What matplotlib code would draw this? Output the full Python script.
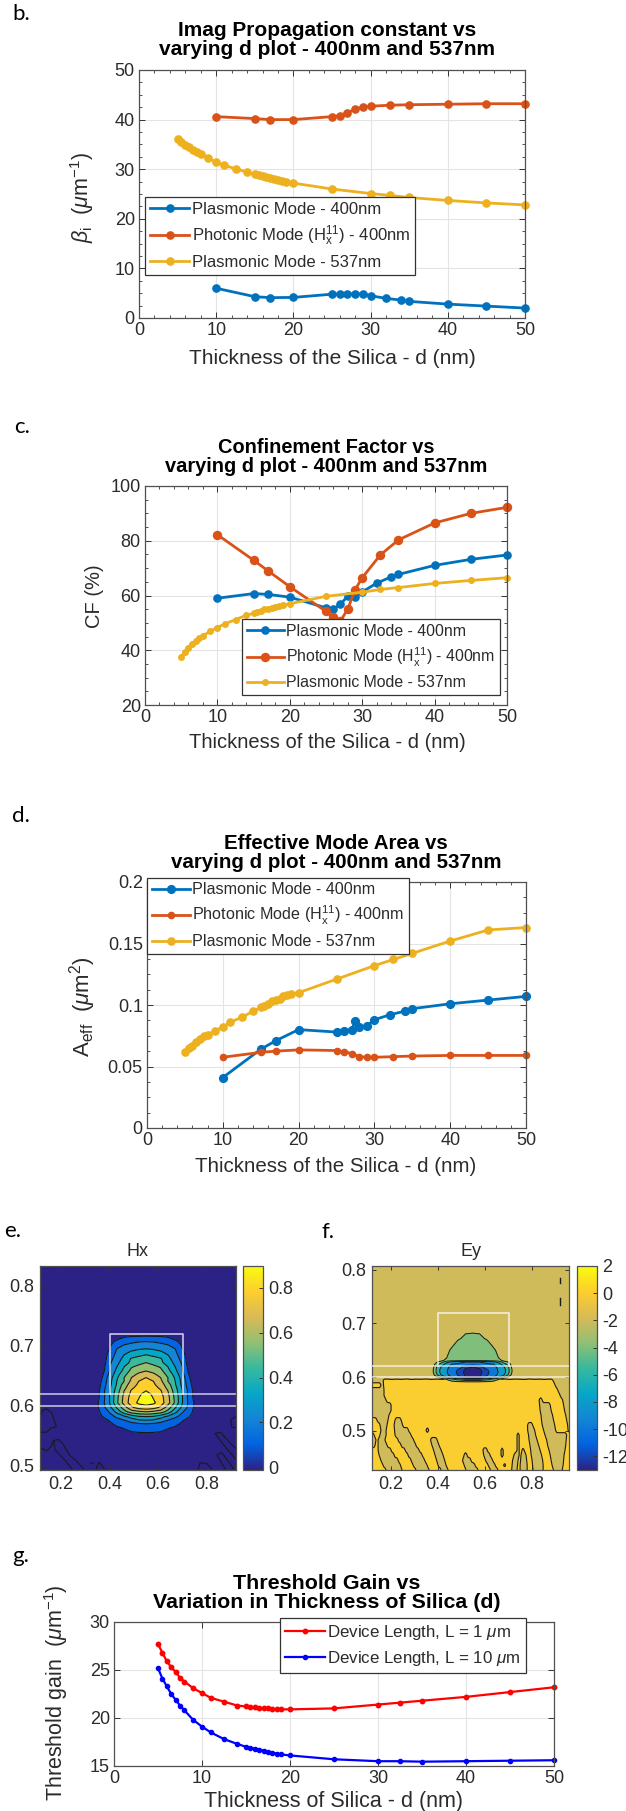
import matplotlib
matplotlib.use('Agg')
import matplotlib.pyplot as plt
import numpy as np
from matplotlib.colors import LinearSegmentedColormap, Normalize
from matplotlib.cm import ScalarMappable
from matplotlib.ticker import MultipleLocator

plt.rcParams['font.family'] = ['Liberation Sans', 'DejaVu Sans']
plt.rcParams['mathtext.fontset'] = 'custom'
plt.rcParams['mathtext.rm'] = 'Liberation Sans'
plt.rcParams['mathtext.it'] = 'Liberation Sans:italic'
plt.rcParams['mathtext.bf'] = 'Liberation Sans:bold'

# thickness sweeps
d_plasmonic = [10, 15, 17, 20, 25, 26, 27, 28, 29, 30, 32, 34, 35, 40, 45, 50]
d_plasmonic_area = [10, 15, 17, 20, 25, 26, 27, 27.5, 28, 29, 30, 32, 34, 35, 40, 45, 50]
d_photonic = [10, 15, 17, 20, 25, 26, 27, 28, 29, 30, 32.5, 35, 40, 45, 50]
d_fine = [5, 5.5, 6, 6.5, 7, 7.5, 8, 9, 10, 11, 12.5, 14, 15, 15.5, 16, 16.5, 17, 17.5,
          18, 18.5, 19, 20, 25, 30, 32.5, 35, 40, 45, 50]

# panel b
beta_plasmonic = [6.0, 4.3, 4.1, 4.15, 4.8, 4.85, 4.85, 4.85, 4.85, 4.5, 3.95, 3.6, 3.35, 2.8, 2.4, 2.0]
beta_photonic = [40.6, 40.2, 40.0, 40.0, 40.6, 40.8, 41.4, 42.1, 42.5, 42.7, 42.9, 43.0, 43.1, 43.2, 43.2]
beta_537 = [36, 35.4, 34.9, 34.4, 33.9, 33.4, 33, 32.2, 31.4, 30.8, 30.1, 29.4, 29, 28.8, 28.6, 28.4,
            28.2, 28, 27.8, 27.6, 27.5, 27.2, 26, 25.1, 24.7, 24.3, 23.7, 23.2, 22.8]

# panel c
cf_plasmonic = [59, 60.7, 60.4, 59.4, 55.5, 55.1, 56.8, 59.8, 59.5, 61.3, 64.5, 66.8, 67.7, 71, 73.2, 74.8]
cf_photonic = [82.2, 72.9, 69, 63.2, 54.2, 52, 50.7, 55, 62, 66.5, 74.8, 80.3, 86.5, 90, 92.2]
cf_537 = [37.6, 39.3, 40.8, 42.2, 43.4, 44.4, 45.3, 46.9, 48.3, 49.6, 51.2, 52.8, 53.5, 54, 54.5, 54.9,
          55.2, 55.6, 55.9, 56.2, 56.5, 57, 59.7, 61.2, 62.2, 62.9, 64.4, 65.5, 66.5]

# panel d
area_plasmonic = [.041, .064, .071, .08, .078, .079, .08, .087, .082, .083, .088, .092, .095, .097, .101, .104, .107]
area_photonic = [.0575, .0615, .0625, .0635, .063, .062, .0605, .058, .0575, .0575, .058, .0585, .059, .059, .059]
area_537 = [.062, .065, .067, .07, .072, .075, .076, .079, .082, .086, .09, .095, .098, .099, .101, .103,
            .104, .105, .107, .108, .109, .11, .121, .132, .137, .142, .152, .161, .163]

# panel g
gain_1um = [27.7, 26.8, 25.9, 25.3, 24.8, 24.2, 23.8, 23.1, 22.6, 22.1, 21.7, 21.3, 21.2, 21.1, 21.1, 21,
            21, 21, 20.9, 20.9, 20.9, 20.9, 21, 21.4, 21.6, 21.8, 22.2, 22.7, 23.2]
gain_10um = [25.2, 24.1, 23.3, 22.5, 21.9, 21.3, 20.8, 19.8, 19.1, 18.5, 17.8, 17.3, 17, 16.9, 16.8, 16.7,
             16.6, 16.5, 16.4, 16.3, 16.2, 16.1, 15.7, 15.5, 15.5, 15.45, 15.5, 15.55, 15.6]

mode_labels = ['Plasmonic Mode - 400nm', r'Photonic Mode (H$_{\mathrm{x}}^{11}$) - 400nm', 'Plasmonic Mode - 537nm']
x_ticks = [0, 10, 20, 30, 40, 50]

# panel e, Hx field, half of the mode (offset from the centre), estimated from the contours
hx_center = 0.55
hx_dx = [0, .03, .06, .09, .12, .15, .18, .21, .24, .45]
hx_y = [.49, .54, .556, .563, .57, .576, .582, .59, .597, .605, .615, .62, .625, .63, .635, .641, .647, .6525,
        .658, .665, .672, .6785, .685, .69, .695, .701, .707, .711, .7155, .725, .74, .84]
hx_half = [
    [0, 0, 0, 0, 0, 0, 0, 0, 0, 0],
    [.01, .01, .01, 0, 0, 0, 0, 0, 0, 0],
    [.104, .102, .095, .08, .05, .03, .01, 0, 0, 0],
    [.15, .148, .135, .105, .085, .05, .02, 0, 0, 0],
    [.2, .19, .17, .15, .125, .08, .03, 0, 0, 0],
    [.3, .29, .25, .2, .16, .11, .05, .01, 0, 0],
    [.4, .39, .34, .28, .22, .16, .1, .03, 0, 0],
    [.6, .58, .55, .46, .33, .21, .13, .04, 0, 0],
    [.76, .74, .68, .55, .41, .27, .155, .05, 0, 0],
    [.84, .82, .75, .64, .48, .3, .16, .05, 0, 0],
    [.87, .79, .74, .63, .47, .3, .15, .03, 0, 0],
    [.84, .775, .725, .615, .46, .3, .15, .025, 0, 0],
    [.8, .76, .71, .6, .445, .3, .155, .02, 0, 0],
    [.78, .74, .68, .57, .43, .285, .14, .01, 0, 0],
    [.76, .72, .65, .55, .41, .27, .13, 0, 0, 0],
    [.73, .7, .625, .5, .4, .26, .115, 0, 0, 0],
    [.7, .66, .6, .5, .385, .25, .1, 0, 0, 0],
    [.65, .62, .56, .47, .36, .225, .08, 0, 0, 0],
    [.6, .57, .53, .43, .33, .2, .06, 0, 0, 0],
    [.55, .525, .49, .4, .3, .2, .045, 0, 0, 0],
    [.5, .47, .42, .36, .27, .18, .03, 0, 0, 0],
    [.45, .43, .41, .33, .25, .16, .025, 0, 0, 0],
    [.4, .38, .34, .3, .23, .14, .02, 0, 0, 0],
    [.35, .335, .31, .27, .215, .12, .018, 0, 0, 0],
    [.3, .29, .27, .24, .2, .1, .015, 0, 0, 0],
    [.25, .245, .225, .205, .16, .085, .012, 0, 0, 0],
    [.2, .195, .18, .16, .12, .07, .01, 0, 0, 0],
    [.15, .148, .14, .125, .09, .05, .01, 0, 0, 0],
    [.104, .102, .1, .09, .06, .03, .01, 0, 0, 0],
    [.03, .03, .03, .025, .015, .005, 0, 0, 0, 0],
    [0, 0, 0, 0, 0, 0, 0, 0, 0, 0],
    [0, 0, 0, 0, 0, 0, 0, 0, 0, 0],
]
hx_levels = [-.01, .1, .2, .3, .4, .5, .6, .7, .8, 1.0]

# faint noise contours in the lower corners of the Hx map
hx_noise = [
    ([.119, .142, .159, .181, .163, .140, .125, .118], [.556, .556, .563, .565, .588, .595, .592, .585]),
    ([.119, .142, .159, .170, .190, .211, .235, .266, .293], [.529, .525, .532, .542, .544, .535, .518, .507, .495]),
    ([.170, .177, .211, .245], [.542, .526, .512, .495]),
    ([.320, .334], [.505, .504]),
    ([.345, .357, .378], [.495, .506, .495]),
    ([.765, .772, .799, .820], [.495, .505, .504, .495]),
    ([.919, .895, .857, .834, .875, .919], [.529, .538, .556, .554, .532, .511]),
    ([.909, .895, .861, .841, .875], [.495, .504, .522, .518, .495]),
    ([.919, .899, .902, .919], [.582, .577, .565, .563]),
]

# panel f, Ey field: x ranges that sit in the -2..0 band, row by row below the metal edge
ey_y = [.594, .585, .576, .566, .557, .548, .538, .529, .520, .511, .501, .492, .483, .473, .464, .455,
        .445, .436, .427]
ey_bands = [
    [(.11, .166), (.889, .97)],
    [(.157, .168), (.898, .97)],
    [(.11, .170), (.909, .97)],
    [(.11, .170), (.919, .97)],
    [(.11, .179), (.830, .843), (.930, .97)],
    [(.11, .200), (.832, .877), (.934, .97)],
    [(.11, .200), (.834, .881), (.938, .97)],
    [(.11, .191), (.838, .887), (.943, .97)],
    [(.140, .187), (.217, .243), (.840, .891), (.947, .97)],
    [(.153, .183), (.213, .249), (.781, .802), (.843, .896), (.951, .97)],
    [(.157, .179), (.215, .274), (.349, .360), (.781, .811), (.849, .900), (.953, .97)],
    [(.11, .128), (.153, .179), (.217, .285), (.736, .745), (.785, .815), (.855, .947)],
    [(.11, .136), (.145, .174), (.230, .296), (.368, .396), (.736, .745), (.787, .821), (.862, .945)],
    [(.11, .132), (.145, .183), (.243, .306), (.374, .404), (.736, .745), (.791, .828), (.866, .943)],
    [(.145, .200), (.260, .319), (.381, .413), (.591, .609), (.668, .677), (.736, .745), (.757, .766),
     (.794, .834), (.872, .940)],
    [(.149, .213), (.272, .332), (.387, .421), (.511, .523), (.594, .621), (.668, .677), (.723, .745),
     (.753, .774), (.796, .840), (.877, .936)],
    [(.157, .230), (.285, .343), (.394, .428), (.504, .540), (.602, .632), (.717, .740), (.751, .777),
     (.800, .845), (.881, .934)],
    [(.166, .240), (.294, .353), (.400, .434), (.511, .557), (.613, .643), (.679, .687), (.715, .738),
     (.749, .779), (.802, .847), (.885, .932)],
    [(.179, .247), (.306, .362), (.413, .443), (.519, .570), (.623, .655), (.713, .736), (.749, .779),
     (.804, .847), (.891, .928)],
]
# first row under the edge, these values give the wiggle of the contour at y=0.596
ey_edge = [.25, .25, .25, .32, .2, .3, .22, .35, .2, .28, .24, .34, .2, .3, .24, .2, .33, .26, .2, .3, .24,
           .3, .22, .34, .2, .28, .25, .32, .2, .3, .26, .2, .34, .22, .3, .2, .3, .25, .25, .25, .25]
ey_levels = [-2, 0, 2]

# the dome and the band in the silica gap, half of the mode
ey_center = 0.547
ey_dx = [0, .03, .05, .07, .09, .11, .13, .15, .165, .18]
ey_core_y = [.59, .596, .6, .604, .609, .614, .619, .624, .628, .631, .636, .65, .669, .682, .69]
ey_core_half = [
    [-1, -1, -1, -1, -1, -1, -1, -1, -1, -1],
    [-6, -6, -5, -4.5, -3.2, -2.1, -1, -1, -1, -1],
    [-12.5, -12, -10, -9, -8, -6, -4, -1.8, -1, -1],
    [-13, -12.5, -10.5, -9.8, -8.8, -7.6, -6.5, -4, -1.8, -1],
    [-13, -12.8, -11, -10, -8.9, -7.9, -7, -5, -2.2, -1],
    [-13, -12.5, -10.5, -9.8, -8.8, -7.8, -6.9, -5, -2.2, -1],
    [-12, -11, -9.5, -9.2, -8.5, -7.6, -6.5, -4.5, -2, -1],
    [-9, -9, -8.6, -8.3, -8, -7, -5.1, -3.5, -1.5, -1],
    [-8, -8, -7.6, -7, -6.5, -5.5, -3.5, -2.1, -1, -1],
    [-3.5, -3.5, -3.5, -3.4, -3.3, -3, -1.5, -1, -1, -1],
    [-3, -3, -3, -3, -2.8, -2, -1, -1, -1, -1],
    [-3, -3, -3, -2.8, -2.3, -1.5, -1, -1, -1, -1],
    [-3, -2.8, -2.3, -1.8, -1, -1, -1, -1, -1, -1],
    [-2, -1.9, -1, -1, -1, -1, -1, -1, -1, -1],
    [-1, -1, -1, -1, -1, -1, -1, -1, -1, -1],
]
ey_core_levels = [-14, -12, -10, -8, -6, -4, -2]
ey_marks = [([.92, .92], [.775, .785]), ([.92, .92], [.735, .748])]

# device outline drawn on both maps
box_x = [.4, .4, .7, .7]
box_y = [.62, .72, .72, .62]
silica_y = [.60, .62]

parula = LinearSegmentedColormap.from_list('parula', ['#2c2285', '#0363e1', '#1485d4', '#06a7c6', '#38b99e',
                                                      '#92bf73', '#d9ba56', '#fcce2e', '#f9fb0e'])
W, H = 626, 1811
BLUE, ORANGE, YELLOW = '#0072bd', '#d95319', '#edb120'
DARK = '#333333'
TICK_SIZE = 13

fig = plt.figure(figsize=(W / 100, H / 100), dpi=100)


def axes_px(left, top, right, bottom):
    return fig.add_axes([left / W, 1 - bottom / H, (right - left) / W, (bottom - top) / H])


def text_px(x, y, s, **kw):
    kw.setdefault('ha', 'center')
    kw.setdefault('va', 'center')
    kw.setdefault('color', '#2b2b2b')
    fig.text(x / W, 1 - y / H, s, **kw)


def title_px(x, y, s, size):
    text_px(x, y, s, fontsize=size, fontweight='bold', color='black', linespacing=0.95)


def panel_letter(x, y, s):
    text_px(x, y, s, ha='left', family=['Lato', 'DejaVu Sans'], fontsize=16, color='black')


def style_axes(ax, ylim, yticks, ylabels=None, yminor=None, xminor=2):
    ax.set_xlim(0, 50)
    ax.set_ylim(*ylim)
    ax.set_xticks(x_ticks)
    ax.set_yticks(yticks)
    if ylabels is not None:
        ax.set_yticklabels(ylabels)
    if xminor:
        ax.xaxis.set_minor_locator(MultipleLocator(xminor))
    if yminor:
        ax.yaxis.set_minor_locator(MultipleLocator(yminor))
    ax.grid(True, which='major', color='#e4e4e4', lw=0.8)
    ax.set_axisbelow(True)
    ax.tick_params(which='major', direction='in', top=True, right=True, length=4, width=0.7,
                   color=DARK, labelsize=TICK_SIZE, labelcolor='#2b2b2b', pad=3)
    ax.tick_params(which='minor', direction='in', top=True, right=True, length=2, width=0.6, color=DARK)
    for s in ax.spines.values():
        s.set_color('#505050')
        s.set_linewidth(0.9)


def legend_px(ax, left, bottom, fontsize=12, **kw):
    leg = ax.legend(loc='lower left', bbox_to_anchor=(left / W, 1 - bottom / H), bbox_transform=fig.transFigure,
                    fontsize=fontsize, fancybox=False, framealpha=1, edgecolor='#333333', borderaxespad=0,
                    borderpad=0.3, handlelength=2.35, handletextpad=0.15, labelspacing=0.42, **kw)
    leg.get_frame().set_linewidth(0.9)
    leg.set_zorder(20)
    for t in leg.get_texts():
        t.set_color('#2b2b2b')


def mirror(half_rows):
    half_rows = np.array(half_rows, dtype=float)
    return np.hstack([half_rows[:, :0:-1], half_rows])


def mirror_x(center, dx):
    dx = np.array(dx)
    return np.concatenate([center - dx[:0:-1], center + dx])


def band_row(xs, bands):
    # signed distance to the nearest band, so the contour passes through the band edges
    dist = np.min([np.maximum(x0 - xs, xs - x1) for x0, x1 in bands], axis=0)
    return np.clip(dist / .006, -1, 1)


def device_lines(ax, x0, x1):
    ax.plot(box_x, box_y, color='white', lw=1.2, alpha=0.75, zorder=6)
    for y in silica_y:
        ax.plot([x0, x1], [y, y], color='white', lw=1.2, alpha=0.7, zorder=6)


def style_map(ax, xlim, ylim, yticks):
    ax.set_xlim(*xlim)
    ax.set_ylim(*ylim)
    ax.set_xticks([.2, .4, .6, .8])
    ax.set_yticks(yticks)
    ax.tick_params(direction='in', top=True, right=True, length=3, width=0.7, color=DARK,
                   labelsize=TICK_SIZE, labelcolor='#2b2b2b', pad=4)
    for s in ax.spines.values():
        s.set_color('#505050')
        s.set_linewidth(0.9)


def bar_px(left, top, right, bottom, vmin, vmax, ticks, labels):
    cax = axes_px(left, top, right, bottom)
    cb = fig.colorbar(ScalarMappable(Normalize(vmin, vmax), parula), cax=cax)
    cb.set_ticks(ticks)
    cb.set_ticklabels(labels)
    cb.ax.tick_params(direction='in', length=3, width=0.7, color=DARK, labelsize=TICK_SIZE,
                      labelcolor='#2b2b2b', pad=4)
    cb.outline.set_edgecolor('#505050')
    cb.outline.set_linewidth(0.9)


# --- b ---
panel_letter(12, 14, 'b.')
ax = axes_px(139, 70, 525, 318)
ax.plot(d_plasmonic, beta_plasmonic, '-o', color=BLUE, lw=2, ms=5.2, clip_on=False, label=mode_labels[0])
ax.plot(d_photonic, beta_photonic, '-o', color=ORANGE, lw=2, ms=5.2, clip_on=False, label=mode_labels[1])
ax.plot(d_fine, beta_537, '-o', color=YELLOW, lw=2, ms=5.2, clip_on=False, label=mode_labels[2])
style_axes(ax, (0, 50), [0, 10, 20, 30, 40, 50], yminor=2.5)
legend_px(ax, 145, 275)
title_px(327, 40, 'Imag Propagation constant vs\nvarying d plot - 400nm and 537nm', 15)
text_px(332, 358, 'Thickness of the Silica - d (nm)', fontsize=15)
text_px(82, 197, r'$\beta_{\mathrm{i}}$  ($\mu$m$^{-1}$)', fontsize=15.5, rotation=90)

# --- c ---
panel_letter(14, 427, 'c.')
ax = axes_px(145, 486, 507, 705)
ax.plot(d_plasmonic, cf_plasmonic, '-o', color=BLUE, lw=2, ms=5.2, clip_on=False, label=mode_labels[0])
ax.plot(d_photonic, cf_photonic, '-o', color=ORANGE, lw=2, ms=5.8, clip_on=False, label=mode_labels[1])
ax.plot(d_fine, cf_537, '-o', color=YELLOW, lw=2, ms=4, clip_on=False, label=mode_labels[2])
style_axes(ax, (20, 100), [20, 40, 60, 80, 100], yminor=5)
legend_px(ax, 242, 695, fontsize=11.4)
title_px(326, 457, 'Confinement Factor vs\nvarying d plot - 400nm and 537nm', 14.4)
text_px(327, 742, 'Thickness of the Silica - d (nm)', fontsize=14.5)
text_px(95, 596, 'CF (%)', fontsize=14.5, rotation=90)

# --- d ---
panel_letter(12, 816, 'd.')
ax = axes_px(147, 882, 526, 1128)
ax.plot(d_plasmonic_area, area_plasmonic, '-o', color=BLUE, lw=2, ms=5.6, clip_on=False, label=mode_labels[0])
ax.plot(d_photonic, area_photonic, '-o', color=ORANGE, lw=2, ms=4.5, clip_on=False, label=mode_labels[1])
ax.plot(d_fine, area_537, '-o', color=YELLOW, lw=2, ms=5.2, clip_on=False, label=mode_labels[2])
style_axes(ax, (0, .2), [0, .05, .1, .15, .2], ['0', '0.05', '0.1', '0.15', '0.2'], yminor=.0125)
legend_px(ax, 147, 954, fontsize=11.6)
title_px(336, 853, 'Effective Mode Area vs\nvarying d plot - 400nm and 537nm', 14.8)
text_px(336, 1167, 'Thickness of the Silica - d (nm)', fontsize=14.8)
text_px(83, 1007, r'A$_{\mathrm{eff}}$  ($\mu$m$^2$)', fontsize=16, rotation=90)

# --- e ---
panel_letter(4, 1231, 'e.')
ax = axes_px(40, 1266, 236, 1470)
hx_xx = mirror_x(hx_center, hx_dx)
hx_field = mirror(hx_half)
hx_colors = [parula(max(v, 0) / .8) for v in hx_levels[:-1]]
ax.contourf(hx_xx, hx_y, hx_field, levels=hx_levels, colors=hx_colors)
ax.contour(hx_xx, hx_y, hx_field, levels=hx_levels[1:-1], colors='#1a1a1a', linewidths=0.8)
for xs, ys in hx_noise:
    ax.plot(xs, ys, color='#1a1a1a', lw=0.8)
device_lines(ax, .114, .915)
style_map(ax, (.114, .92), (.493, .833), [.5, .6, .7, .8])
bar_px(243, 1266, 263, 1470, -.012, .898, [0, .2, .4, .6, .8], ['0', '0.2', '0.4', '0.6', '0.8'])
text_px(138, 1252, 'Hx', fontsize=13)

# --- f ---
panel_letter(321, 1232, 'f.')
ax = axes_px(372, 1266, 569, 1470)
ey_xx = np.linspace(.119, .957, 210)
edge_fine = np.interp(ey_xx, np.linspace(.119, .957, len(ey_edge)), ey_edge)
ey_rows = [np.full(ey_xx.size, -1.0), np.full(ey_xx.size, -1.0)]
for i, bands in enumerate(ey_bands):
    row = band_row(ey_xx, bands)
    if i == 0:
        row = np.where(row > 0, row * edge_fine, row)
    ey_rows.append(row)
ey_all_y = [.807, .604] + ey_y
ey_grid = np.array(ey_rows)
base_colors = [parula((v + 13) / 15) for v in ey_levels[:-1]]
ax.contourf(ey_xx, ey_all_y, ey_grid, levels=ey_levels, colors=base_colors)
ax.contour(ey_xx, ey_all_y, ey_grid, levels=[0], colors='#1a1a1a', linewidths=0.8)
core_xx = mirror_x(ey_center, ey_dx)
core_field = mirror(ey_core_half)
core_colors = [parula(max(v + 13, 0) / 15) for v in ey_core_levels[:-1]]
ax.contourf(core_xx, ey_core_y, core_field, levels=ey_core_levels, colors=core_colors, zorder=3)
ax.contour(core_xx, ey_core_y, core_field, levels=ey_core_levels, colors='#1a1a1a', linewidths=0.7,
           linestyles='solid', zorder=4)
for xs, ys in ey_marks:
    ax.plot(xs, ys, color='#1a1a1a', lw=1)
device_lines(ax, .119, .957)
style_map(ax, (.119, .957), (.427, .807), [.5, .6, .7, .8])
bar_px(577, 1266, 597, 1470, -13, 2, [-12, -10, -8, -6, -4, -2, 0, 2],
       ['-12', '-10', '-8', '-6', '-4', '-2', '0', '2'])
text_px(471, 1252, 'Ey', fontsize=13)

# --- g ---
panel_letter(12, 1556, 'g.')
ax = axes_px(114, 1622, 554, 1766)
ax.plot(d_fine, gain_1um, '-o', color='red', lw=1.6, ms=3.2, clip_on=False, label=r'Device Length, L = 1 $\mu$m')
ax.plot(d_fine, gain_10um, '-o', color='blue', lw=1.6, ms=3, clip_on=False, label=r'Device Length, L = 10 $\mu$m')
style_axes(ax, (15, 30), [15, 20, 25, 30], xminor=None)
legend_px(ax, 280, 1673, fontsize=12.2)
title_px(327, 1593, 'Threshold Gain vs\nVariation in Thickness of Silica (d)', 15.4)
text_px(333, 1801, 'Thickness of Silica - d (nm)', fontsize=15.5)
text_px(56, 1693, r'Threshold gain  ($\mu$m$^{-1}$)', fontsize=15.5, rotation=90)

fig.savefig('out.png', dpi=100)
